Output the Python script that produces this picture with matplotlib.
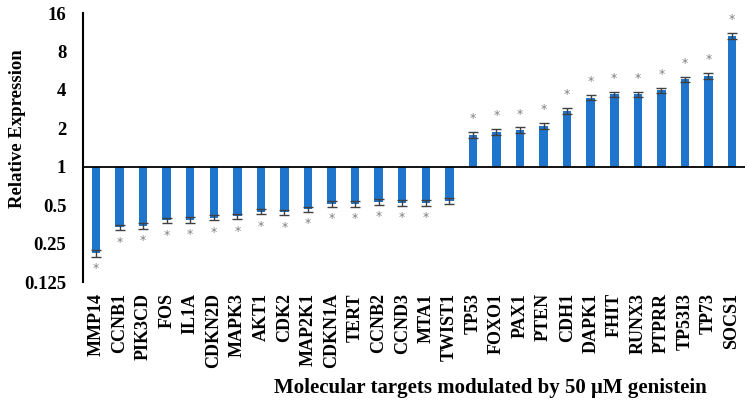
import numpy as np
import matplotlib
matplotlib.use('Agg')
import matplotlib.pyplot as plt

plt.rcParams['font.family'] = ['Liberation Serif', 'DejaVu Serif']
plt.rcParams['font.weight'] = 'bold'

genes = ['MMP14', 'CCNB1', 'PIK3CD', 'FOS', 'IL1A', 'CDKN2D', 'MAPK3', 'AKT1',
         'CDK2', 'MAP2K1', 'CDKN1A', 'TERT', 'CCNB2', 'CCND3', 'MTA1', 'TWIST1',
         'TP53', 'FOXO1', 'PAX1', 'PTEN', 'CDH1', 'DAPK1', 'FHIT', 'RUNX3',
         'PTPRR', 'TP53I3', 'TP73', 'SOCS1']
expr = [0.21, 0.335, 0.345, 0.38, 0.385, 0.40, 0.41, 0.445,
        0.44, 0.465, 0.51, 0.51, 0.53, 0.52, 0.52, 0.54,
        1.78, 1.88, 1.93, 2.09, 2.74, 3.48, 3.70, 3.70,
        3.98, 4.85, 5.17, 10.6]
err = [0.012, 0.018, 0.018, 0.02, 0.02, 0.02, 0.02, 0.022,
       0.022, 0.022, 0.025, 0.025, 0.025, 0.025, 0.025, 0.025,
       0.1, 0.1, 0.1, 0.11, 0.14, 0.17, 0.18, 0.18,
       0.19, 0.24, 0.26, 0.5]
signif = [True] * 15 + [False] + [True] * 12

x = np.arange(len(genes))
expr = np.array(expr)
err = np.array(err)

fig = plt.figure(figsize=(7.48, 4.13), dpi=100)
ax = fig.add_axes([0.111, 0.317, 0.885, 0.6515])

ax.bar(x, expr - 1, bottom=1, width=0.36, color='#1f74cc', zorder=2)
ax.errorbar(x, expr, yerr=err, fmt='none', ecolor='#404040', elinewidth=1,
            capsize=3.5, capthick=1, zorder=3)

for xi, v, e, s in zip(x, expr, err, signif):
    if not s:
        continue
    if v > 1:
        ax.annotate('*', (xi, v + e), xytext=(0, 5), textcoords='offset points',
                    ha='center', va='bottom', color='#808080', fontsize=9,
                    fontweight='normal', family='DejaVu Sans')
    else:
        ax.annotate('*', (xi, v - e), xytext=(0, -4), textcoords='offset points',
                    ha='center', va='top', color='#808080', fontsize=9,
                    fontweight='normal', family='DejaVu Sans')

ax.set_yscale('log', base=2)
ax.set_ylim(0.125, 16)
ax.set_xlim(-0.55, 27.55)
yt = [0.125, 0.25, 0.5, 1, 2, 4, 8, 16]
ax.set_yticks(yt)
ax.set_yticklabels(['0.125', '0.25', '0.5', '1', '2', '4', '8', '16'])
ax.minorticks_off()
ax.axhline(1, color='black', lw=1.3, zorder=4)

ax.set_xticks(x)
ax.set_xticklabels(genes, rotation=90, fontsize=13, fontweight='bold')
ax.tick_params(axis='x', length=0, pad=8)
ax.tick_params(axis='y', length=0, pad=12, labelsize=13.5)
for lab in ax.get_yticklabels():
    lab.set_fontweight('bold')

for sp in ['top', 'right', 'bottom']:
    ax.spines[sp].set_visible(False)
ax.spines['left'].set_linewidth(1.5)

ax.set_ylabel('Relative Expression', fontsize=13.5, fontweight='bold')
ax.yaxis.set_label_coords(-0.086, 0.57)
ax.set_xlabel('Molecular targets modulated by 50 \u03bcM genistein', fontsize=15,
              fontweight='bold')
ax.xaxis.set_label_coords(0.615, -0.357)

fig.savefig('out.png', dpi=100)
